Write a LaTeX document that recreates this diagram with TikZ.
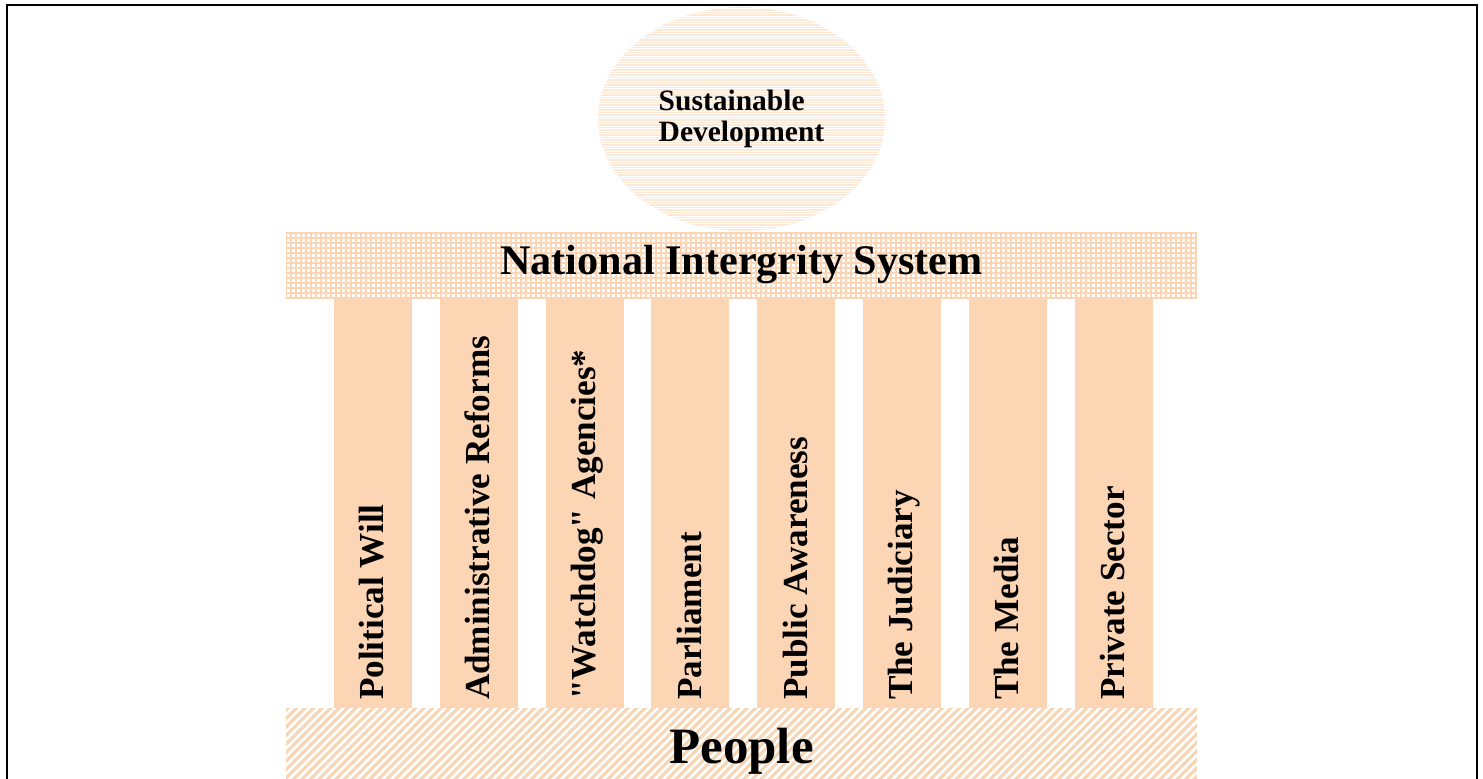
\documentclass[tikz,border=0pt]{standalone}
\usepackage{fontspec}
\setmainfont{Liberation Serif}
\usetikzlibrary{shapes.geometric}

\definecolor{peach}{RGB}{252,213,180}
\definecolor{lightpeach}{RGB}{253,231,213}
\definecolor{hatchpeach}{RGB}{245,214,182}

\tikzset{
  goal/.style={ellipse, fill=lightpeach, minimum width=5.74cm, minimum height=4.48cm,
    align=left, font=\fontsize{16.8}{17.6}\selectfont\bfseries,
    path picture={
      \foreach \k in {0,...,90}
        \draw[white, line width=0.3pt] ([yshift=\k*0.05cm]path picture bounding box.south west)
          -- ([yshift=\k*0.05cm]path picture bounding box.south east);
    }},
  roof/.style={minimum width=18.22cm, minimum height=1.32cm, inner sep=0pt,
    font=\fontsize{24}{28}\selectfont\bfseries,
    path picture={
      \foreach \k in {0,...,183}
        \draw[peach, line width=0.9pt] ([xshift=\k*0.1cm]path picture bounding box.south west)
          -- ([xshift=\k*0.1cm]path picture bounding box.north west);
      \foreach \k in {0,...,13}
        \draw[peach, line width=0.9pt] ([yshift=\k*0.1cm]path picture bounding box.south west)
          -- ([yshift=\k*0.1cm]path picture bounding box.south east);
    }},
  base/.style={minimum width=18.22cm, minimum height=1.74cm, inner sep=0pt,
    font=\fontsize{29}{34}\selectfont\bfseries,
    path picture={
      \foreach \k in {-12,...,105}
        \draw[hatchpeach, line width=1.8pt] ([xshift=\k*0.17cm]path picture bounding box.south west)
          -- ++(2cm,2cm);
    }},
  pillar/.style={fill=peach, minimum width=1.56cm, minimum height=8.2cm, inner sep=0pt},
  pillarlabel/.style={rotate=90, anchor=west, inner sep=0pt, text height=0.66em, text depth=0pt,
    font=\fontsize{20}{24}\selectfont\bfseries}
}

\begin{document}
\begin{tikzpicture}[x=0.02cm,y=-0.02cm]
  \useasboundingbox (0,0) rectangle (1483,778);

  % goal on top, roof and base of the temple
  \node[goal] (sd) at (741.5,119) {Sustainable\\Development};
  \node[roof] (nis) at (741.5,265) {\raisebox{-0.12em}{National Intergrity System}};
  \node[base] (people) at (741.5,751.5) {People};

  % the eight pillars
  \foreach \lbl [count=\i] in {Political Will, Administrative Reforms,
      \textquotedbl Watchdog\textquotedbl\ Agencies*,
      Parliament, Public Awareness, The Judiciary, The Media, Private Sector} {
    \node[pillar] (p\i) at ({373+105.8*(\i-1)},503) {};
    \node[pillarlabel] (l\i) at ([xshift=0.1cm,yshift=0.16cm]p\i.south) {\lbl};
  }

  % frame, open at the bottom
  \draw[line width=0.04cm] (7,790) -- (7,5) -- (1477,5) -- (1477,790);
\end{tikzpicture}
\end{document}
